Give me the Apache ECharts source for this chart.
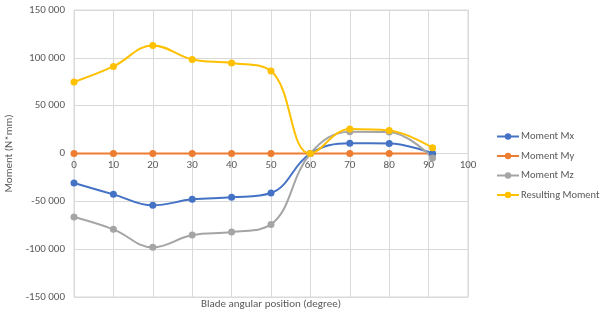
<!DOCTYPE html>
<html>
<head>
<meta charset="utf-8">
<script src="https://cdn.jsdelivr.net/npm/echarts@6/dist/echarts.min.js"></script>
<style>
  html, body { margin: 0; padding: 0; background: #fff; }
  #chart { width: 600px; height: 324px; }
</style>
</head>
<body>
<div id="chart"></div>
<script>
// blade angle (degree)
const angles = [0, 10, 20, 30, 40, 50, 60, 70, 80, 91];
const momentMx = [-30800, -42700, -54200, -47900, -45800, -41300, 0, 10700, 10500, 0];
const momentMy = [0, 0, 0, 0, 0, 0, 0, 0, 0, 0];
const momentMz = [-66400, -79300, -98100, -85300, -82100, -74100, 0, 22800, 22500, -4700];
const resulting = [74800, 91000, 113000, 98300, 94700, 86300, 0, 25600, 24000, 6000];

const seriesNames = ['Moment Mx', 'Moment My', 'Moment Mz', 'Resulting Moment'];
const seriesColors = ['#4472C4', '#ED7D31', '#A5A5A5', '#FFC000'];
const seriesValues = [momentMx, momentMy, momentMz, resulting];

const textColor = '#595959';
const gridColor = '#d9d9d9';
const fontFamily = 'Calibri, Carlito, "Open Sans", sans-serif';

function fmtThousands(v) {
    const neg = v < 0;
    let s = String(Math.abs(v)).replace(/\B(?=(\d{3})+(?!\d))/g, ' ');
    return (neg ? '-' : '') + s;
}

const chart = echarts.init(document.getElementById('chart'));
const option = {
    animation: false,
    textStyle: { fontFamily: fontFamily },
    grid: {
        left: 74, right: 132, top: 10, bottom: 27,
        containLabel: false, outerBoundsMode: 'none',
        show: true, borderColor: gridColor, borderWidth: 1
    },
    legend: {
        orient: 'vertical',
        left: 491,
        top: 126,
        itemGap: 8.5,
        itemWidth: 22,
        itemHeight: 8,
        textStyle: { color: textColor, fontSize: 10.5, padding: [0, 0, 0, -3] },
        data: seriesNames
    },
    xAxis: {
        // labels sit on the zero line, like Excel's crossing axis
        type: 'value',
        min: 0,
        max: 100,
        interval: 10,
        offset: -143.5,
        axisLine: { onZero: false, lineStyle: { color: gridColor } },
        axisTick: { show: false },
        axisLabel: { color: textColor, fontSize: 11, margin: 6 },
        splitLine: { show: true, lineStyle: { color: gridColor, width: 1 } },
        name: 'Blade angular position (degree)',
        nameLocation: 'middle',
        nameGap: 145,
        nameTextStyle: { color: textColor, fontSize: 11 }
    },
    yAxis: {
        type: 'value',
        min: -150000,
        max: 150000,
        interval: 50000,
        axisLine: { show: false },
        axisTick: { show: false },
        axisLabel: { color: textColor, fontSize: 11, margin: 9, formatter: fmtThousands },
        splitLine: { show: true, lineStyle: { color: gridColor, width: 1 } },
        name: 'Moment (N*mm)',
        nameLocation: 'middle',
        nameGap: 57,
        nameTextStyle: { color: textColor, fontSize: 11 }
    },
    series: seriesNames.map(function (name, i) {
        return {
            name: name,
            type: 'line',
            smooth: 0.4,
            symbol: 'circle',
            symbolSize: 7,
            lineStyle: { width: 2, color: seriesColors[i] },
            itemStyle: { color: seriesColors[i] },
            z: i === 1 ? 1 : 2,
            data: angles.map(function (a, k) { return [a, seriesValues[i][k]]; })
        };
    })
};
chart.setOption(option);
</script>
</body>
</html>
